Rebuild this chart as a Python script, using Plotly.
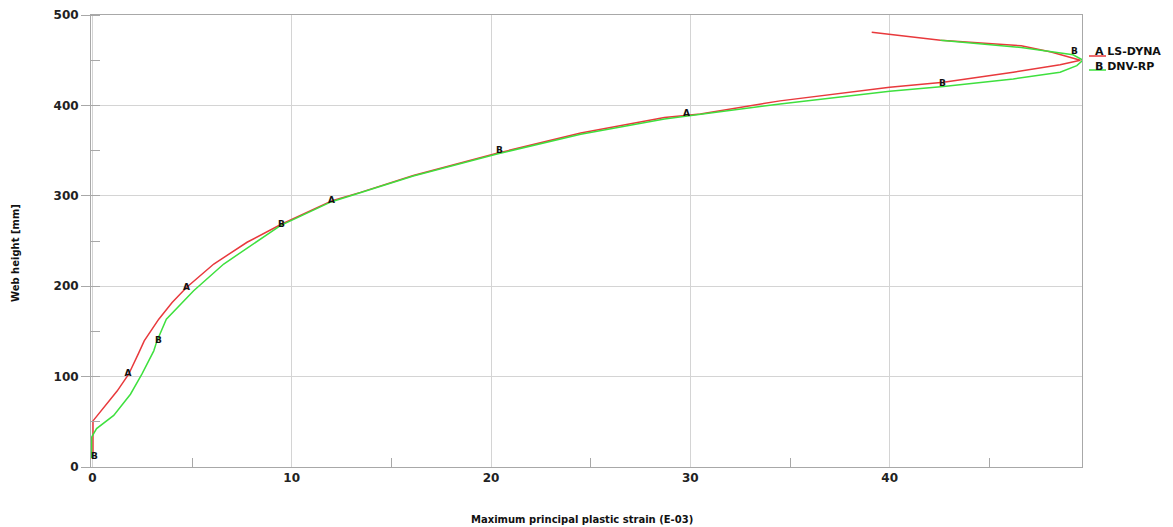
import plotly.graph_objects as go

# LS-DYNA (curve A, red)
lsdyna_strain = [0.03, 0.03, 1.24, 1.82, 2.32, 2.6, 3.33, 4.0, 4.72, 6.09, 7.76, 9.43,
                 12.03, 13.45, 16.1, 20.3, 24.5, 28.7, 30.5, 34.5, 40.0, 42.7, 46.2,
                 48.55, 49.57, 48.1, 46.6, 42.55, 39.1]
lsdyna_height = [15, 51, 84, 102.6, 126, 139.5, 163.5, 182, 198.6, 224.5, 248.6, 268,
                 294.6, 303.8, 322.5, 347, 369.5, 386.5, 390.5, 405, 420, 425.6, 436.6,
                 445, 450, 459, 466, 472, 481]

# DNV-RP (curve B, green)
dnv_strain = [-0.05, -0.04, 0.21, 1.07, 1.91, 2.49, 3.08, 3.24, 3.71, 5.08, 6.59, 8.09,
              9.43, 12.0, 16.1, 20.3, 24.5, 28.7, 34.5, 40.0, 42.7, 46.2, 48.55, 49.39,
              49.7, 49.2, 46.6, 42.55]
dnv_height = [10, 33, 42.5, 57, 80.5, 103, 128.5, 139.5, 163.5, 195, 224.5, 246.6,
              267, 293.5, 322, 346.3, 368, 385, 401.6, 415.6, 420.8, 429.3, 436.6, 444,
              450, 456, 464, 472]

# curve-identifier labels placed along the curves
label_a_strain = [1.79, 4.72, 12.0, 29.8]
label_a_height = [103, 198.6, 294.5, 391]
label_b_strain = [0.1, 3.31, 9.48, 20.42, 42.65, 49.27]
label_b_height = [11, 139.5, 268, 350, 424, 459.6]

series_names = ["LS-DYNA", "DNV-RP"]
x_title = "Maximum principal plastic strain (E-03)"
y_title = "Web height [mm]"

RED = "#e8393c"
GREEN = "#3ee03e"
FONT = "DejaVu Sans"

fig = go.Figure()
fig.add_trace(go.Scatter(x=lsdyna_strain, y=lsdyna_height, mode="lines",
                         line=dict(color=RED, width=1.5), name=series_names[0],
                         showlegend=False, hoverinfo="skip"))
fig.add_trace(go.Scatter(x=dnv_strain, y=dnv_height, mode="lines",
                         line=dict(color=GREEN, width=1.5), name=series_names[1],
                         showlegend=False, hoverinfo="skip"))
fig.add_trace(go.Scatter(x=label_a_strain, y=label_a_height, mode="text",
                         text=["A"] * len(label_a_strain),
                         textfont=dict(family=FONT, size=9, color="#111", weight="bold"),
                         showlegend=False, hoverinfo="skip"))
fig.add_trace(go.Scatter(x=label_b_strain, y=label_b_height, mode="text",
                         text=["B"] * len(label_b_strain),
                         textfont=dict(family=FONT, size=9, color="#111", weight="bold"),
                         showlegend=False, hoverinfo="skip"))

tickfont = dict(family=FONT, size=12, color="#222", weight="bold")
fig.update_xaxes(range=[-0.07, 49.65], dtick=10, tick0=0, showgrid=True,
                 gridcolor="#d4d4d4", gridwidth=1, zeroline=False,
                 showline=True, linecolor="#a8a8a8", linewidth=1, mirror=True,
                 ticks="", tickfont=tickfont, automargin=False,
                 minor=dict(dtick=5, tick0=0, ticks="inside", ticklen=9,
                            tickcolor="#a8a8a8", showgrid=False))
fig.update_yaxes(range=[0, 500], dtick=100, tick0=0, showgrid=True,
                 gridcolor="#d4d4d4", gridwidth=1, zeroline=False,
                 showline=True, linecolor="#a8a8a8", linewidth=1, mirror=True,
                 ticks="outside", ticklen=9, tickcolor="#a8a8a8", tickfont=tickfont,
                 automargin=False,
                 minor=dict(dtick=50, tick0=0, ticks="inside", ticklen=9,
                            tickcolor="#a8a8a8", showgrid=False))

annotations = [
    dict(text=x_title, x=582, y=519, xref="paper", yref="paper"),
    dict(text=y_title, x=15, y=253, xref="paper", yref="paper", textangle=-90),
]
# convert pixel positions to paper coords
L, R, T, B = 91, 91, 15, 60
W, H = 1173, 527
pw, ph = W - L - R, H - T - B
def px(xp):
    return (xp - L) / pw
def py(yp):
    return (H - B - yp) / ph

ann = []
for a in annotations:
    a2 = dict(a)
    a2["x"] = px(a["x"])
    a2["y"] = py(a["y"])
    a2.update(showarrow=False, xanchor="center", yanchor="middle",
              font=dict(family=FONT, size=10, color="#111", weight="bold"))
    ann.append(a2)

# legend entries
legend_items = [("A", series_names[0], RED, 52, 56), ("B", series_names[1], GREEN, 66, 70)]
shapes = []
for letter, name, col, ty, ly in legend_items:
    shapes.append(dict(type="line", xref="paper", yref="paper",
                       x0=px(1089), x1=px(1106), y0=py(ly), y1=py(ly),
                       line=dict(color=col, width=1.5)))
    ann.append(dict(text=letter + " " + name, x=px(1093), y=py(ty), xref="paper",
                    yref="paper", showarrow=False, xanchor="left", yanchor="middle",
                    font=dict(family=FONT, size=11, color="#111", weight="bold")))

fig.update_layout(width=W, height=H, margin=dict(l=L, r=R, t=T, b=B),
                  plot_bgcolor="white", paper_bgcolor="white",
                  annotations=ann, shapes=shapes, showlegend=False)

fig.write_html("out.html", config={"displayModeBar": False},
               post_script="document.body.style.margin='0';document.body.style.overflow='hidden';")
